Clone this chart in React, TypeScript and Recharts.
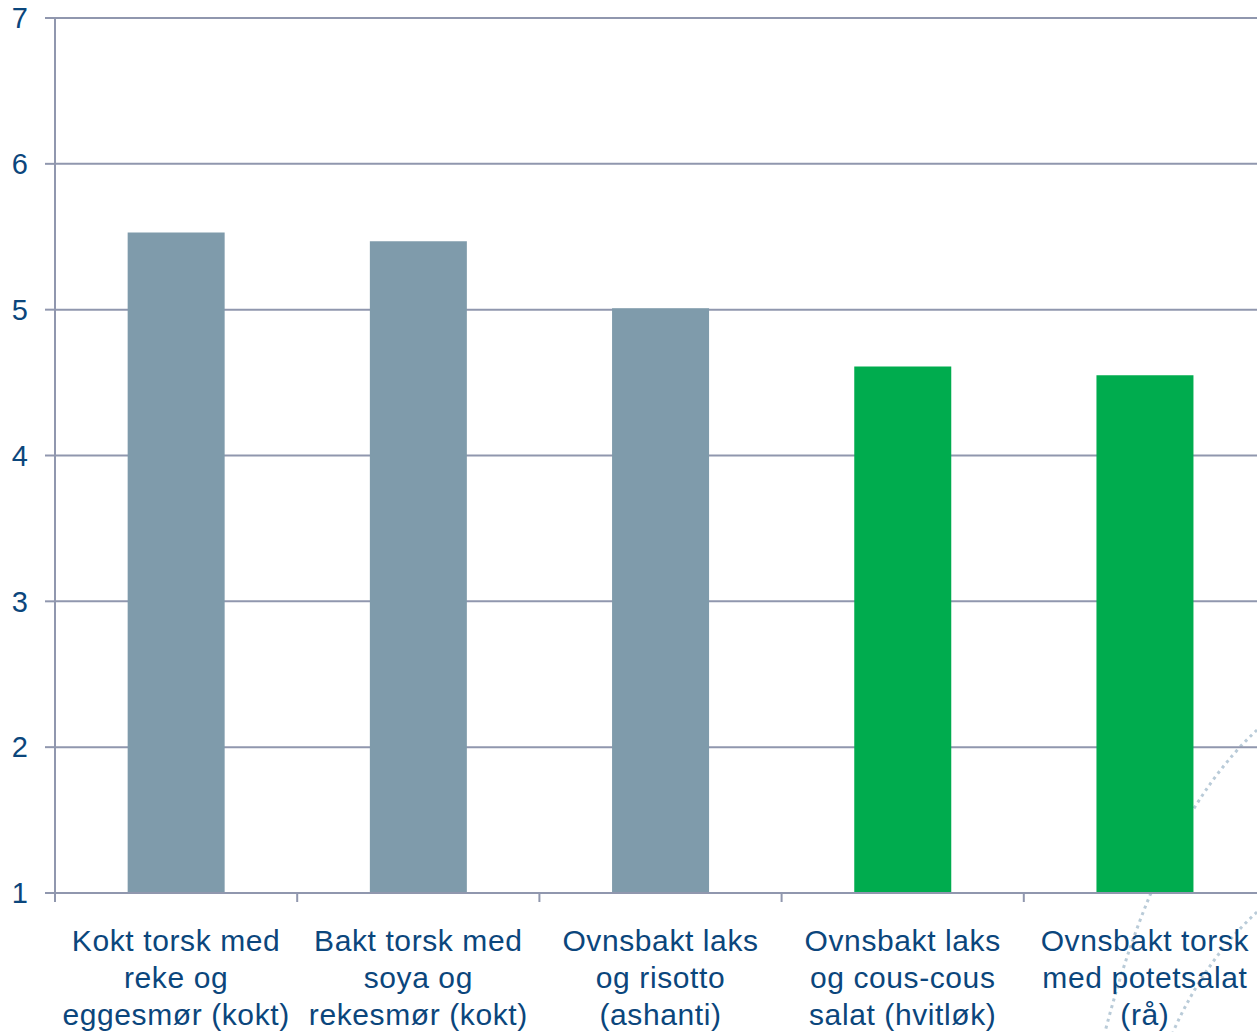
import { BarChart, Bar, XAxis, YAxis, CartesianGrid, Cell } from 'recharts';

// Dish names, wrapped over three lines as they appear under the axis
const dishes = [
  'Kokt torsk med\nreke og\neggesmør (kokt)',
  'Bakt torsk med\nsoya og\nrekesmør (kokt)',
  'Ovnsbakt laks\nog risotto\n(ashanti)',
  'Ovnsbakt laks\nog cous-cous\nsalat (hvitløk)',
  'Ovnsbakt torsk\nmed potetsalat\n(rå)'
];
const scores = [5.53, 5.47, 5.01, 4.61, 4.55];
const barColors = ['#7f9bab', '#7f9bab', '#7f9bab', '#00ac4e', '#00ac4e'];
const yTicks = [1, 2, 3, 4, 5, 6, 7];

const data = dishes.map((name, i) => ({ name, score: scores[i] }));

const TEXT = '#0b467c';
const LINE = '#9097ae';
const FONT = '"Liberation Sans", Arial, sans-serif';

// Category label split into lines, plus a tick mark on the left band edge
const DishTick = (props: any) => {
  const { x, y, payload } = props;
  const half = payload && payload.offset ? payload.offset : 121;
  const lines = String(payload.value).split('\n');
  return (
    <g>
      <line x1={x - half} y1={y} x2={x - half} y2={y + 9} stroke={LINE} strokeWidth={2} />
      <text x={x} y={y} textAnchor="middle" fill={TEXT} fontSize={30} letterSpacing={0.6} fontFamily={FONT}>
        {lines.map((l, i) => (
          <tspan key={i} x={x} dy={i === 0 ? 58 : 37}>
            {l}
          </tspan>
        ))}
      </text>
    </g>
  );
};

export default function App() {
  return (
    <div
      style={{
        position: 'absolute',
        left: 0,
        top: 0,
        width: 1257,
        height: 1032,
        overflow: 'hidden',
        background: '#fff'
      }}
    >
      {/* faint dotted swirl in the lower right corner */}
      <svg width={1257} height={1032} style={{ position: 'absolute', left: 0, top: 0 }}>
        <path d="M1257,730 Q1160,820 1105,1032" fill="none" stroke="#b9cbd8" strokeWidth={3} strokeDasharray="3 4" />
        <path d="M1257,912 Q1205,960 1173,1032" fill="none" stroke="#b9cbd8" strokeWidth={3} strokeDasharray="3 4" />
      </svg>
      <div style={{ position: 'absolute', left: 1, top: 0 }}>
        <BarChart
          width={1290}
          height={1032}
          data={data}
          margin={{ top: 18, right: 25, left: 0, bottom: 0 }}
          barCategoryGap="30%"
        >
          <CartesianGrid horizontal vertical={false} stroke={LINE} strokeWidth={2} />
          <XAxis
            dataKey="name"
            interval={0}
            height={139}
            tickLine={false}
            tickSize={0}
            tickMargin={0}
            axisLine={{ stroke: LINE, strokeWidth: 2 }}
            tick={<DishTick />}
          />
          <YAxis
            domain={[1, 7]}
            ticks={yTicks}
            width={54}
            tickSize={10}
            tickMargin={17}
            axisLine={{ stroke: LINE, strokeWidth: 2 }}
            tickLine={{ stroke: LINE, strokeWidth: 2 }}
            tick={{ fill: TEXT, fontSize: 29, fontFamily: FONT }}
          />
          <Bar dataKey="score" isAnimationActive={false}>
            {data.map((d, i) => (
              <Cell key={d.name} fill={barColors[i]} />
            ))}
          </Bar>
        </BarChart>
      </div>
    </div>
  );
}
